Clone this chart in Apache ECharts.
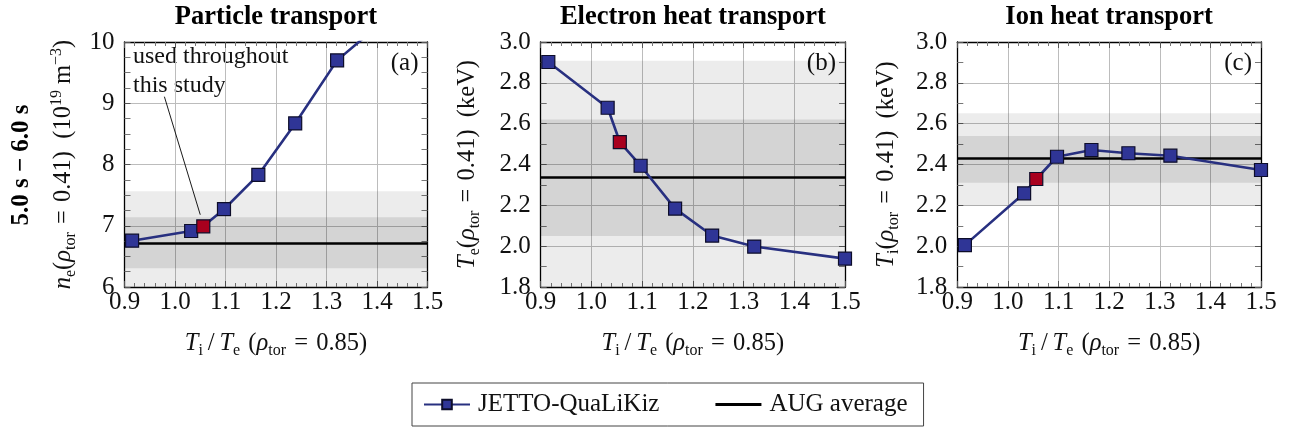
<!DOCTYPE html>
<html>
<head>
<meta charset="utf-8">
<script src="https://cdn.jsdelivr.net/npm/echarts@6/dist/echarts.min.js"></script>
<style>html,body{margin:0;padding:0;background:#fff}#c{width:1290px;height:430px}</style>
</head>
<body>
<div id="c"></div>
<script>
// ---- data ----
const xRatio = [0.915, 1.032, 1.056, 1.097, 1.165, 1.238, 1.321, 1.5];   // Ti/Te (rho_tor = 0.85)
const neValues = [6.756, 6.914, 6.99, 7.27, 7.83, 8.67, 9.70, 10.95];  // 10^19 m^-3
const teValues = [2.902, 2.678, 2.510, 2.394, 2.184, 2.052, 1.998, 1.939]; // keV
const tiValues = [2.005, 2.259, 2.329, 2.438, 2.471, 2.455, 2.443, 2.373]; // keV
const highlightIndex = 2; // "used throughout this study"
const augAverage = [6.718, 2.336, 2.426];
const augInnerBand = [[6.305, 7.138], [2.050, 2.621], [2.311, 2.540]];
const augOuterBand = [[5.874, 7.562], [1.764, 2.908], [2.197, 2.651]];
const xTicks = [0.9, 1.5, 0.1];
const yTicks = [[6, 10, 1, 4], [1.8, 3.0, 0.2, 2], [1.8, 3.0, 0.2, 2]];
const panelTitles = ['Particle transport', 'Electron heat transport', 'Ion heat transport'];
const panelTags = ['(a)', '(b)', '(c)'];
const seriesNames = ['JETTO-QuaLiKiz', 'AUG average'];

const FONT = '"Liberation Serif", "DejaVu Serif", serif';
const grids = [
  {left: 124.5, top: 42, width: 303, height: 245},
  {left: 540.7, top: 42, width: 304.3, height: 245},
  {left: 957.3, top: 42, width: 303.7, height: 245}
];
const rich = {
  r: {fontFamily: FONT, fontSize: 24.5, color: '#111', lineHeight: 30, verticalAlign: 'middle'},
  i: {fontFamily: FONT, fontSize: 24.5, fontStyle: 'italic', color: '#111', lineHeight: 30, verticalAlign: 'middle'},
  sub: {fontFamily: FONT, fontSize: 16, color: '#111', lineHeight: 14, verticalAlign: 'bottom'},
  sup: {fontFamily: FONT, fontSize: 16, color: '#111', lineHeight: 14, verticalAlign: 'top', padding: [0,0,2,0]}
};
const SP = '\u2004';   // three-per-em space (math spacing around "=")
const EN = '\u2002';
const yNames = [
  '{i|n}{sub|e}{r|(}{i|ρ}{sub|tor}{r|' + SP + '=' + SP + '0.41)' + EN + '(10}{sup|19}{r| m}{sup|−3}{r|)}',
  '{i|T}{sub|e}{r|(}{i|ρ}{sub|tor}{r|' + SP + '=' + SP + '0.41)' + EN + '(keV)}',
  '{i|T}{sub|i}{r|(}{i|ρ}{sub|tor}{r|' + SP + '=' + SP + '0.41)' + EN + '(keV)}'
];
const yNameGaps = [46, 58, 56];
const xName = '{i|T}{sub|i}{r|\u2009/\u2009}{i|T}{sub|e}{r|' + SP + '(}{i|ρ}{sub|tor}{r|' + SP + '=' + SP + '0.85)}';

const tickLabel = {fontFamily: FONT, fontSize: 25, color: '#111'};
const xAxes = [], yAxes = [], series = [];
const valuesByPanel = [neValues, teValues, tiValues];

for (let p = 0; p < 3; p++) {
  const [ymin, ymax, yint, ysplit] = yTicks[p];
  xAxes.push({
    type: 'value', gridIndex: p, min: xTicks[0], max: xTicks[1], interval: xTicks[2],
    axisLine: {show: true, lineStyle: {color: '#000', width: 1.3}},
    axisTick: {show: true, inside: true, length: 6, lineStyle: {color: '#555'}},
    minorTick: {show: true, splitNumber: 5, length: 4, lineStyle: {color: '#777'}},
    splitLine: {show: true, lineStyle: {color: '#bcbcbc', width: 1}},
    axisLabel: Object.assign({margin: 3, formatter: v => v.toFixed(1)}, tickLabel),
    name: xName, nameLocation: 'middle', nameGap: 42,
    nameTextStyle: {rich: rich}
  });
  yAxes.push({
    type: 'value', gridIndex: p, min: ymin, max: ymax, interval: yint,
    axisLine: {show: true, lineStyle: {color: '#000', width: 1.3}},
    axisTick: {show: true, inside: true, length: 6, lineStyle: {color: '#555'}},
    minorTick: {show: true, splitNumber: ysplit, length: 6, lineStyle: {color: '#777'}},
    splitLine: {show: true, lineStyle: {color: '#bcbcbc', width: 1}},
    axisLabel: Object.assign({margin: 10, formatter: v => (p === 0 ? String(Math.round(v)) : v.toFixed(1))}, tickLabel),
    name: yNames[p], nameLocation: 'middle', nameRotate: 90, nameGap: yNameGaps[p],
    nameTextStyle: {rich: rich}
  });
}
for (let p = 0; p < 3; p++) {
  const [ymin, ymax, yint, ysplit] = yTicks[p];
  xAxes.push({
    type: 'value', gridIndex: p, position: 'top', min: xTicks[0], max: xTicks[1], interval: xTicks[2],
    axisLine: {show: true, lineStyle: {color: '#000', width: 1.3}},
    axisTick: {show: true, inside: true, length: 6, lineStyle: {color: '#555'}},
    minorTick: {show: true, splitNumber: 5, length: 4, lineStyle: {color: '#777'}},
    splitLine: {show: false}, axisLabel: {show: false}
  });
  yAxes.push({
    type: 'value', gridIndex: p, position: 'right', min: ymin, max: ymax, interval: yint,
    axisLine: {show: true, lineStyle: {color: '#000', width: 1.3}},
    axisTick: {show: true, inside: true, length: 6, lineStyle: {color: '#555'}},
    minorTick: {show: true, splitNumber: ysplit, length: 6, lineStyle: {color: '#777'}},
    splitLine: {show: false}, axisLabel: {show: false}
  });
}

for (let p = 0; p < 3; p++) {
  series.push({
    name: seriesNames[1], type: 'line', xAxisIndex: p, yAxisIndex: p, data: [],
    symbol: 'none', color: '#000', lineStyle: {color: '#000', width: 2.6}, z: 3,
    markArea: {
      silent: true,
      data: [
        [{yAxis: augOuterBand[p][0], itemStyle: {color: 'rgba(0,0,0,0.075)'}}, {yAxis: augOuterBand[p][1]}],
        [{yAxis: augInnerBand[p][0], itemStyle: {color: 'rgba(0,0,0,0.10)'}}, {yAxis: augInnerBand[p][1]}]
      ]
    },
    markLine: {
      silent: true, symbol: 'none', label: {show: false},
      lineStyle: {color: '#000', width: 2.6, type: 'solid'},
      data: [{yAxis: augAverage[p]}]
    }
  });
  const vals = valuesByPanel[p];
  const data = xRatio.map((x, k) => k === highlightIndex
    ? {value: [x, vals[k]], itemStyle: {color: '#a8001e'}}
    : [x, vals[k]]);
  const s = {
    name: seriesNames[0], type: 'line', xAxisIndex: p, yAxisIndex: p, data: data,
    symbol: 'rect', symbolSize: 13, showSymbol: true, clip: true, z: 5,
    color: '#2f3596',
    lineStyle: {color: '#283080', width: 2.6},
    itemStyle: {color: '#2f3596', borderColor: '#0d0d2a', borderWidth: 1.2}
  };
  if (p === 0) {
    s.markLine = {
      silent: true, symbol: ['none', 'arrow'], symbolSize: [0, 7], label: {show: false},
      lineStyle: {color: '#000', width: 0.9, type: 'solid'},
      data: [[{coord: [0.979, 9.107]}, {coord: [1.05, 7.18]}]]
    };
  }
  series.push(s);
}

const centers = grids.map(g => g.left + g.width / 2);
const graphic = [];
for (let p = 0; p < 3; p++) {
  graphic.push({type: 'text', x: centers[p], y: 17,
    style: {text: panelTitles[p], font: 'bold 26.5px ' + FONT, fill: '#000', textAlign: 'center', textVerticalAlign: 'middle'}});
  graphic.push({type: 'text', x: grids[p].left + grids[p].width - 9, y: 63,
    style: {text: panelTags[p], font: '25px ' + FONT, fill: '#111', textAlign: 'right', textVerticalAlign: 'middle'}});
}
graphic.push({type: 'text', x: 133, y: 57,
  style: {text: 'used throughout', font: '24px ' + FONT, fill: '#111', textAlign: 'left', textVerticalAlign: 'middle'}});
graphic.push({type: 'text', x: 133, y: 86,
  style: {text: 'this study', font: '24px ' + FONT, fill: '#111', textAlign: 'left', textVerticalAlign: 'middle'}});
graphic.push({type: 'text', x: 22, y: 165, rotation: Math.PI / 2,
  style: {text: '5.0 s − 6.0 s', font: 'bold 25px ' + FONT, fill: '#000', textAlign: 'center', textVerticalAlign: 'middle'}});

const chart = echarts.init(document.getElementById('c'));
chart.setOption({
  animation: false,
  backgroundColor: '#fff',
  grid: grids,
  xAxis: xAxes,
  yAxis: yAxes,
  legend: {
    data: [
      {name: seriesNames[0]},
      {name: seriesNames[1], icon: 'path://M0,0 L40,0 L40,2.6 L0,2.6 Z'}
    ],
    left: 412, top: 383,
    orient: 'horizontal',
    itemWidth: 46, itemHeight: 12, itemGap: 56,
    padding: [9, 16, 9, 11],
    borderColor: '#444', borderWidth: 1,
    textStyle: {fontFamily: FONT, fontSize: 25, color: '#111', padding: [0, 0, 0, 3]}
  },
  graphic: graphic,
  series: series
});
</script>
</body>
</html>
